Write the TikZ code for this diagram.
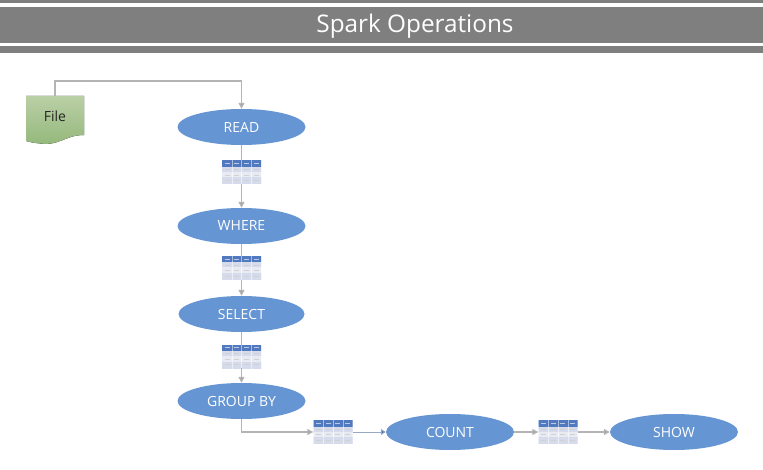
\documentclass[tikz,border=0pt]{standalone}
\usepackage{fontspec}
\setmainfont{Open Sans}
\usetikzlibrary{arrows.meta,calc,shapes.geometric}
\definecolor{barg}{HTML}{7F7F7F}
\definecolor{ovalb}{HTML}{6595D2}
\definecolor{connb}{HTML}{B4B4B4}
\definecolor{bluec}{HTML}{9AA8C8}
\definecolor{headb}{HTML}{5079C0}
\definecolor{rowa}{HTML}{E8EBF4}
\definecolor{rowb}{HTML}{D6DBEB}
\definecolor{filetop}{HTML}{BACFA6}
\definecolor{filebot}{HTML}{93B87A}
\tikzset{
  x=1pt,y=-1pt,
  oval/.style={shape=ellipse,fill=ovalb,text=white,minimum width=128pt,minimum height=36pt,inner sep=0pt,font=\fontsize{14}{16}\selectfont},
  tablebox/.style={rectangle,minimum width=39pt,minimum height=23pt,inner sep=0pt,
    path picture={
      \coordinate (cc) at (path picture bounding box.center);
      \fill[rowa] ($(cc)+(-20,-12)$) rectangle ($(cc)+(20,12)$);
      \fill[headb] ($(cc)+(-20,-12)$) rectangle ($(cc)+(20,-5.5)$);
      \fill[rowb] ($(cc)+(-20,-0.5)$) rectangle ($(cc)+(20,-5.5)$);
      \fill[rowb] ($(cc)+(-20,5)$) rectangle ($(cc)+(20,12)$);
      \foreach \cx in {-14.5,-4.8,4.8,14.5}{
        \fill[white!60!headb] ($(cc)+(\cx-2.5,-9.3)$) rectangle +(5,1.2);
        \foreach \ry in {-3.4,2.1,7.8}
          \fill[black!18] ($(cc)+(\cx-2.5,\ry)$) rectangle +(5,0.9);
      }
      \foreach \cx in {-9.7,0,9.7}
        \draw[white,opacity=0.5,line width=0.3pt] ($(cc)+(\cx,-12)$) -- +(0,24);
    }},
  conn/.style={draw=connb,line width=1.3pt,-{Triangle[length=6pt,width=6pt,fill=black!40]}},
  plain/.style={draw=connb,line width=1.3pt},
  connblue/.style={draw=bluec,line width=0.9pt,-{Triangle[length=5pt,width=6pt,fill=headb!85!black]}}
}
\begin{document}
\begin{tikzpicture}
\useasboundingbox (0,0) rectangle (763,470);
\fill[white] (0,0) rectangle (763,470);
\fill[barg] (0,0) rectangle (763,3.3);
\fill[barg] (0,7.5) rectangle (763,43);
\fill[barg] (0,46.3) rectangle (763,53);
\node[text=white,font=\fontsize{24.3}{28}\selectfont] (title) at (415,26.5) {Spark Operations};

\fill[top color=filetop,bottom color=filebot]
  (26,96) -- (84,96) -- (84,135) .. controls (65,135) and (60,146) .. (40,143.5) .. controls (34,143) and (30,142) .. (26,141) -- cycle;
\node[inner sep=0pt,font=\fontsize{14}{16}\selectfont,text=black!85] (file) at (55,116) {File};
\coordinate (filetopc) at (55,96);

\node[oval] (read) at (241.5,127) {READ};
\node[oval] (where) at (241.5,226) {WHERE};
\node[oval,minimum width=126pt] (select) at (241.5,314) {SELECT};
\node[oval] (group) at (241.5,401) {GROUP BY};
\node[oval] (count) at (450,432) {COUNT};
\node[oval] (show) at (674,432) {SHOW};

\node[tablebox] (t1) at (241.5,172.5) {};
\node[tablebox] (t2) at (241.5,268) {};
\node[tablebox] (t3) at (241.5,356.5) {};
\node[tablebox] (t4) at (333,432) {};
\node[tablebox] (t5) at (558,432) {};

\draw[conn] (filetopc) -- (55,81) -- (241.5,81) -- (read.north);
\draw[plain] (read.south) -- (t1.north);
\draw[conn] (t1.south) -- (where.north);
\draw[plain] (where.south) -- (t2.north);
\draw[conn] (t2.south) -- (select.north);
\draw[plain] (select.south) -- (t3.north);
\draw[conn] (t3.south) -- (group.north);
\draw[conn] (group.south) -- (241.5,432) -- (t4.west);
\draw[connblue] (t4.east) -- (count.west);
\draw[conn] (count.east) -- (t5.west);
\draw[conn] (t5.east) -- (show.west);
\end{tikzpicture}
\end{document}
